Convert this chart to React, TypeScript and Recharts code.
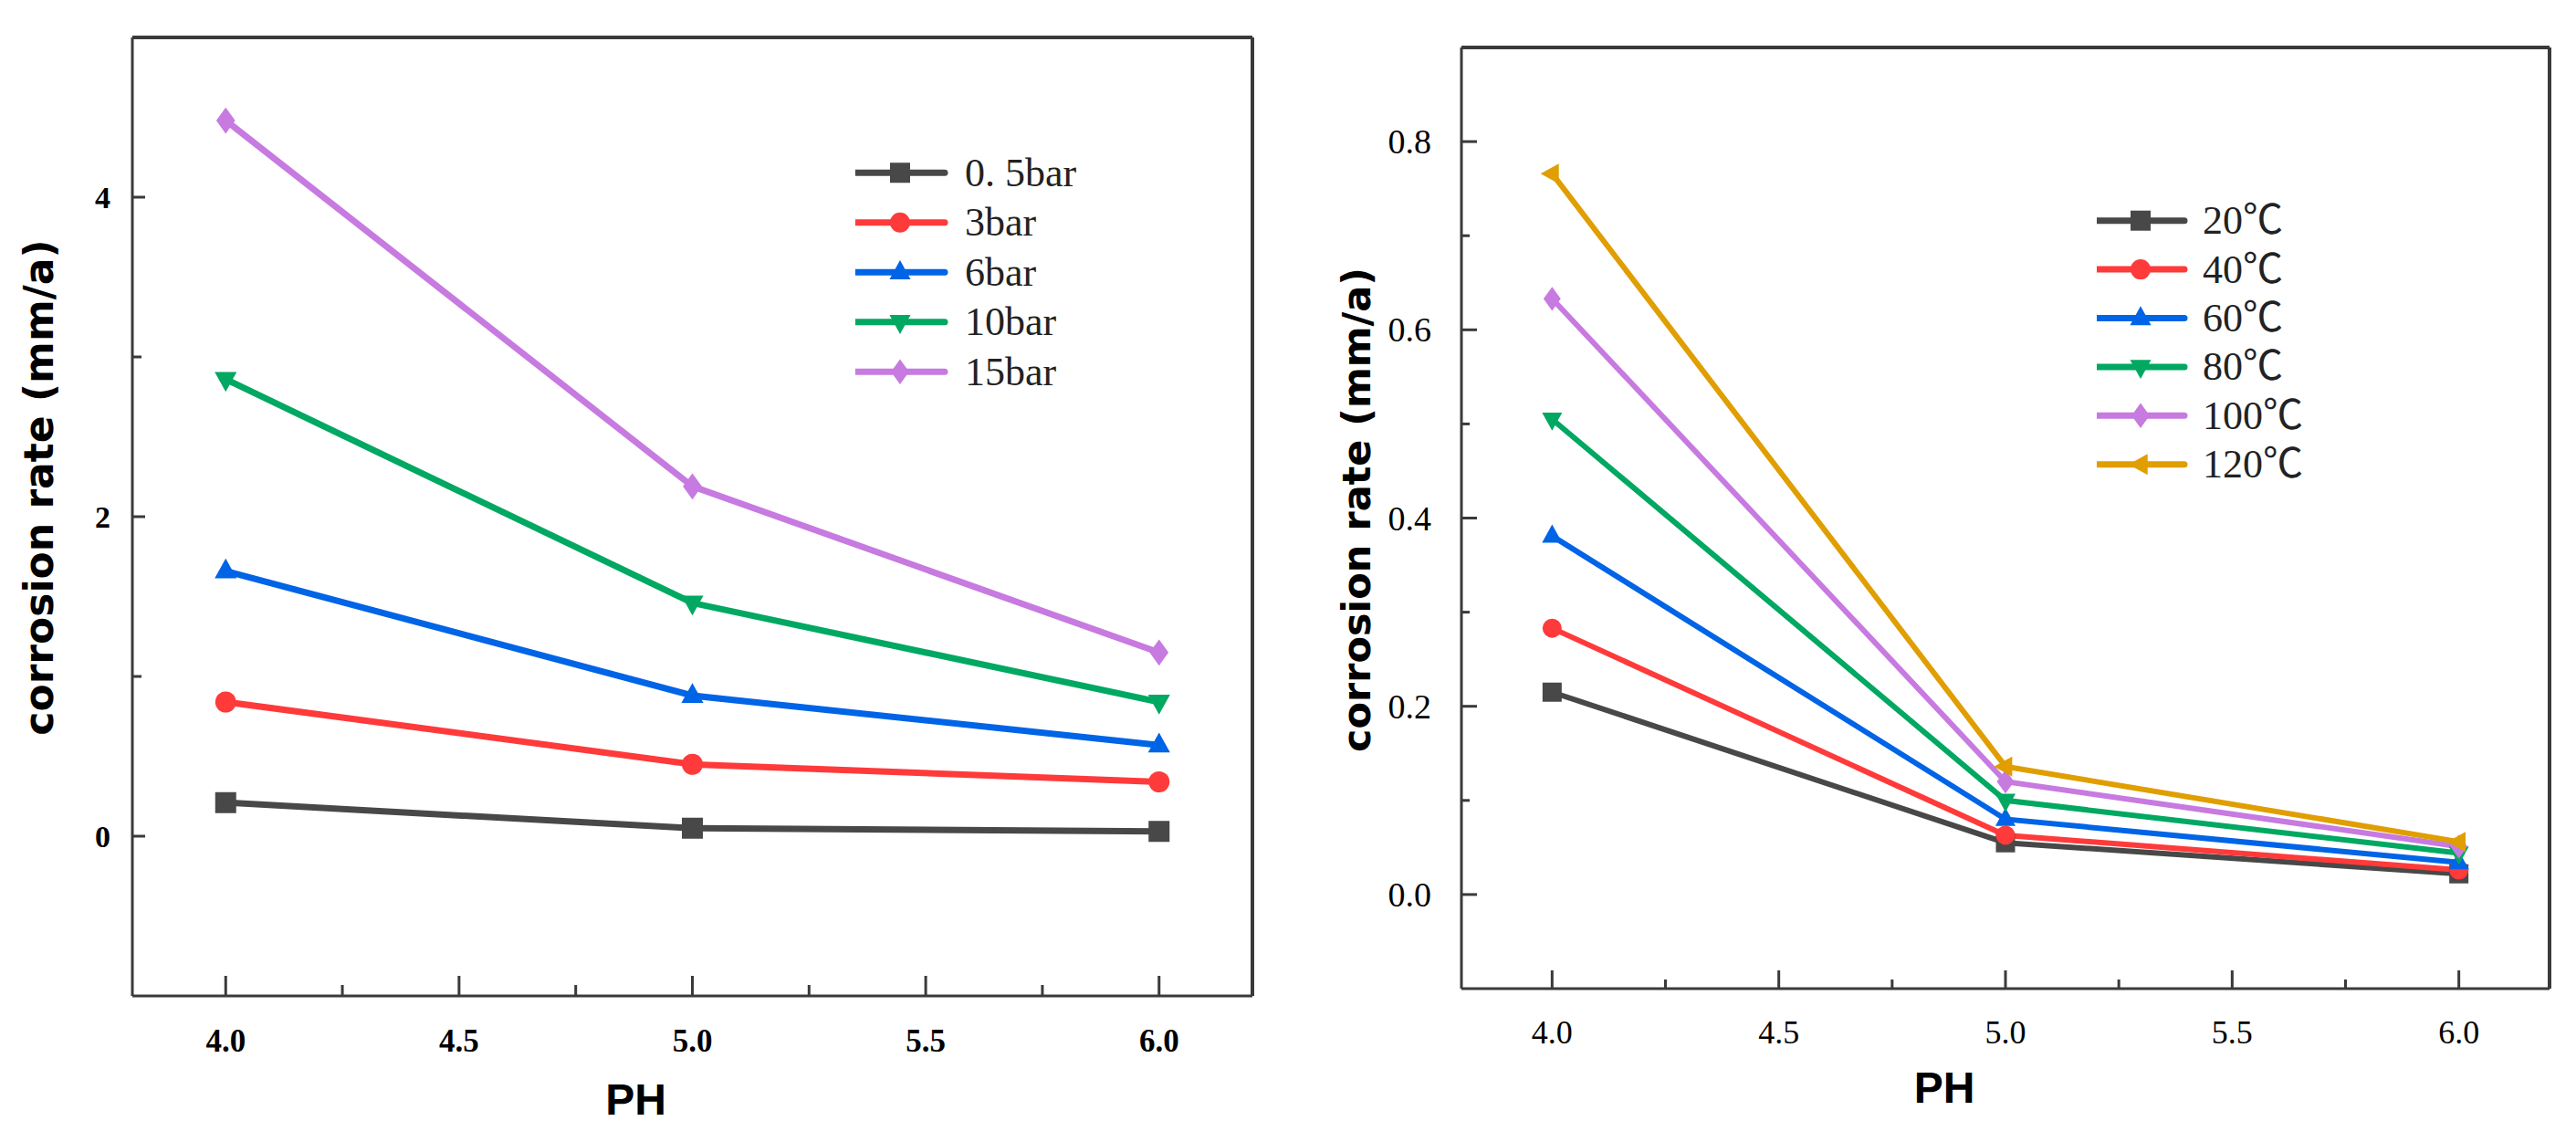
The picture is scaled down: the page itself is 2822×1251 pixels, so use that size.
import { LineChart, Line, XAxis, YAxis, Legend, Label, ReferenceLine } from "recharts";

// pH values shared by both panels
const phValues = [4.0, 5.0, 6.0];

// left panel: corrosion rate vs pH at different CO2 partial pressures
const pressureLabels = ["0. 5bar", "3bar", "6bar", "10bar", "15bar"];
const rate05bar = [0.21, 0.05, 0.03];
const rate3bar = [0.84, 0.45, 0.34];
const rate6bar = [1.66, 0.88, 0.57];
const rate10bar = [2.86, 1.46, 0.84];
const rate15bar = [4.48, 2.19, 1.15];

// right panel: corrosion rate vs pH at different temperatures
const tempLabels = ["20℃", "40℃", "60℃", "80℃", "100℃", "120℃"];
const rate20c = [0.215, 0.055, 0.022];
const rate40c = [0.283, 0.063, 0.026];
const rate60c = [0.381, 0.08, 0.034];
const rate80c = [0.505, 0.1, 0.044];
const rate100c = [0.633, 0.12, 0.051];
const rate120c = [0.766, 0.136, 0.056];

// axis ticks
const xTicks = [4.0, 4.25, 4.5, 4.75, 5.0, 5.25, 5.5, 5.75, 6.0];
const xMajor = [4.0, 4.5, 5.0, 5.5, 6.0];
const leftYTicks = [0, 1, 2, 3, 4];
const leftYMajor = [0, 2, 4];
const rightYTicks = [0, 0.1, 0.2, 0.3, 0.4, 0.5, 0.6, 0.7, 0.8];
const rightYMajor = [0, 0.2, 0.4, 0.6, 0.8];

const xDomain = [3.8, 6.2];
const leftYDomain = [-1, 5];
const rightYDomain = [-0.1, 0.9];

const COLORS = ["#484848", "#ff3a3a", "#0064e6", "#00a862", "#c77ae0", "#e09e00"];
const SHAPES = ["square", "circle", "triangle", "triangleDown", "diamond", "triangleLeft"];
const AXIS = "#3a3a3a";

const leftSeries = [rate05bar, rate3bar, rate6bar, rate10bar, rate15bar];
const rightSeries = [rate20c, rate40c, rate60c, rate80c, rate100c, rate120c];

const leftData = phValues.map((ph, i) => {
  const row: Record<string, number> = { ph };
  leftSeries.forEach((s, k) => (row[`s${k}`] = s[i]));
  return row;
});
const rightData = phValues.map((ph, i) => {
  const row: Record<string, number> = { ph };
  rightSeries.forEach((s, k) => (row[`s${k}`] = s[i]));
  return row;
});

const near = (list: number[], v: number) => list.some((m) => Math.abs(m - v) < 1e-6);

function Marker({ shape, cx, cy, size, color }: any) {
  const s = size / 2;
  switch (shape) {
    case "square":
      return <rect x={cx - s} y={cy - s} width={size} height={size} fill={color} />;
    case "circle":
      return <circle cx={cx} cy={cy} r={s} fill={color} />;
    case "triangle":
      return <path d={`M${cx},${cy - s * 1.2}L${cx + s * 1.05},${cy + s * 0.7}L${cx - s * 1.05},${cy + s * 0.7}Z`} fill={color} />;
    case "triangleDown":
      return <path d={`M${cx},${cy + s * 1.2}L${cx + s * 1.05},${cy - s * 0.7}L${cx - s * 1.05},${cy - s * 0.7}Z`} fill={color} />;
    case "diamond":
      return <path d={`M${cx},${cy - s * 1.25}L${cx + s * 0.9},${cy}L${cx},${cy + s * 1.25}L${cx - s * 0.9},${cy}Z`} fill={color} />;
    default:
      return <path d={`M${cx - s * 1.2},${cy}L${cx + s * 0.7},${cy - s * 1.05}L${cx + s * 0.7},${cy + s * 1.05}Z`} fill={color} />;
  }
}

function makeXTick(major: number, minor: number, labelDy: number, fontSize: number, bold: boolean) {
  return (props: any) => {
    const { x, y, payload } = props;
    const isMajor = near(xMajor, payload.value);
    return (
      <g>
        <line x1={x} x2={x} y1={y} y2={y - (isMajor ? major : minor)} stroke={AXIS} strokeWidth={3} />
        {isMajor && (
          <text x={x} y={y + labelDy} textAnchor="middle" dominantBaseline="central"
            fontFamily="Liberation Serif, serif" fontSize={fontSize} fontWeight={bold ? 700 : 400} fill="#000">
            {payload.value.toFixed(1)}
          </text>
        )}
      </g>
    );
  };
}

function makeYTick(majorList: number[], major: number, minor: number, gap: number, fontSize: number, bold: boolean, fmt: (v: number) => string) {
  return (props: any) => {
    const { x, y, payload } = props;
    const isMajor = near(majorList, payload.value);
    return (
      <g>
        <line x1={x} x2={x + (isMajor ? major : minor)} y1={y} y2={y} stroke={AXIS} strokeWidth={3} />
        {isMajor && (
          <text x={x - gap} y={y} textAnchor="end" dominantBaseline="central"
            fontFamily="Liberation Serif, serif" fontSize={fontSize} fontWeight={bold ? 700 : 400} fill="#000">
            {fmt(payload.value)}
          </text>
        )}
      </g>
    );
  };
}

function makeLegend(labels: string[], lineW: number, textX: number, rowH: number, fontSize: number) {
  return () => (
    <svg width={textX + 160} height={rowH * labels.length} style={{ display: "block" }}>
      {labels.map((name, k) => {
        const cy = rowH * k + rowH / 2;
        return (
          <g key={name}>
            <line x1={0} x2={lineW} y1={cy} y2={cy} stroke={COLORS[k]} strokeWidth={7} strokeLinecap="round" />
            <Marker shape={SHAPES[k]} cx={lineW / 2} cy={cy} size={22} color={COLORS[k]} />
            <text x={textX} y={cy} dominantBaseline="central" fontFamily="Liberation Serif, Noto Sans CJK SC, serif"
              fontSize={fontSize} fill="#222">
              {name}
            </text>
          </g>
        );
      })}
    </svg>
  );
}

function yTitle(dx: number, dy: number, fontSize: number) {
  return ({ viewBox }: any) => {
    const cx = viewBox.x + dx;
    const cy = viewBox.y + viewBox.height / 2 + dy;
    return (
      <text x={cx} y={cy} transform={`rotate(-90, ${cx}, ${cy})`} textAnchor="middle" dominantBaseline="central"
        fontFamily="DejaVu Sans, sans-serif" fontWeight={700} fontSize={fontSize} fill="#000">
        corrosion rate (mm/a)
      </text>
    );
  };
}

function xTitle(dx: number, dy: number) {
  return ({ viewBox }: any) => (
    <text x={viewBox.x + viewBox.width / 2 + dx} y={viewBox.y + dy} textAnchor="middle" dominantBaseline="central"
      fontFamily="Liberation Sans, sans-serif" fontWeight={700} fontSize={48} fill="#000">
      PH
    </text>
  );
}

function renderLines(labels: string[], size: number, width: number) {
  return labels.map((name, k) => (
    <Line
      key={name}
      dataKey={`s${k}`}
      name={name}
      type="linear"
      stroke={COLORS[k]}
      strokeWidth={width}
      isAnimationActive={false}
      dot={(p: any) => <Marker key={`${name}-${p.index}`} shape={SHAPES[k]} cx={p.cx} cy={p.cy} size={size} color={COLORS[k]} />}
      activeDot={false}
    />
  ));
}

export default function App() {
  return (
    <div style={{ position: "absolute", left: 0, top: 0, width: 2822, height: 1251, background: "#fff" }}>
      <div style={{ position: "absolute", left: 0, top: 0 }}>
        <LineChart width={1400} height={1251} data={leftData} margin={{ top: 41, right: 28, left: 0, bottom: 0 }}>
          <XAxis dataKey="ph" type="number" domain={xDomain} ticks={xTicks} interval={0} height={160}
            axisLine={{ stroke: AXIS, strokeWidth: 3 }} tickLine={false} tickSize={0} tickMargin={0}
            tick={makeXTick(22, 12, 49, 35, true)}>
            <Label content={xTitle(-62, 113)} />
          </XAxis>
          <YAxis type="number" domain={leftYDomain} ticks={leftYTicks} interval={0} width={145}
            axisLine={{ stroke: AXIS, strokeWidth: 3 }} tickLine={false} tickSize={0} tickMargin={0}
            tick={makeYTick(leftYMajor, 14, 10, 24, 34, true, (v) => String(v))}>
            <Label content={yTitle(42, -32, 44)} />
          </YAxis>
          <ReferenceLine y={leftYDomain[1]} stroke={AXIS} strokeWidth={4} />
          <ReferenceLine x={xDomain[1]} stroke={AXIS} strokeWidth={4} />
          <Legend layout="vertical" align="center" verticalAlign="middle"
            wrapperStyle={{ left: 937, top: 162, width: 320 }}
            content={makeLegend(pressureLabels, 98, 120, 54.5, 44)} />
          {renderLines(pressureLabels, 23, 7)}
        </LineChart>
      </div>
      <div style={{ position: "absolute", left: 1400, top: 0 }}>
        <LineChart width={1422} height={1251} data={rightData} margin={{ top: 52, right: 29, left: 0, bottom: 0 }}>
          <XAxis dataKey="ph" type="number" domain={xDomain} ticks={xTicks} interval={0} height={168}
            axisLine={{ stroke: AXIS, strokeWidth: 3 }} tickLine={false} tickSize={0} tickMargin={0}
            tick={makeXTick(20, 10, 48, 36, false)}>
            <Label content={xTitle(-67, 108)} />
          </XAxis>
          <YAxis type="number" domain={rightYDomain} ticks={rightYTicks} interval={0} width={201}
            axisLine={{ stroke: AXIS, strokeWidth: 3 }} tickLine={false} tickSize={0} tickMargin={0}
            tick={makeYTick(rightYMajor, 17, 9, 33, 38, false, (v) => v.toFixed(1))}>
            <Label content={yTitle(86, -9, 43)} />
          </YAxis>
          <ReferenceLine y={rightYDomain[1]} stroke={AXIS} strokeWidth={4} />
          <ReferenceLine x={xDomain[1]} stroke={AXIS} strokeWidth={4} />
          <Legend layout="vertical" align="center" verticalAlign="middle"
            wrapperStyle={{ left: 897, top: 215, width: 300 }}
            content={makeLegend(tempLabels, 96, 116, 53.4, 44)} />
          {renderLines(tempLabels, 21, 6)}
        </LineChart>
      </div>
    </div>
  );
}
